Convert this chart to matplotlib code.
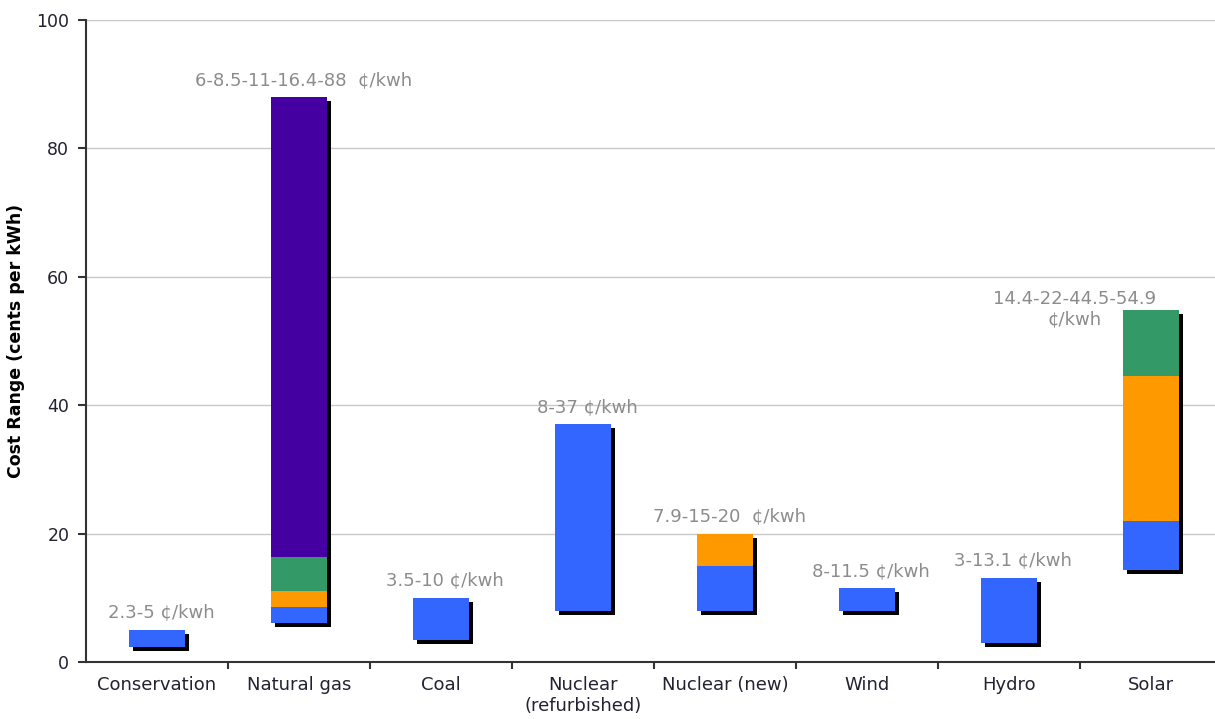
import matplotlib
matplotlib.use('Agg')
import matplotlib.pyplot as plt
from matplotlib.transforms import ScaledTranslation

# cost ranges per source, cents per kWh (segment break points, bottom to top)
categories = ['Conservation', 'Natural gas', 'Coal', 'Nuclear\n(refurbished)',
              'Nuclear (new)', 'Wind', 'Hydro', 'Solar']
breaks = [
    [2.3, 5],
    [6, 8.5, 11, 16.4, 88],
    [3.5, 10],
    [8, 37],
    [7.9, 15, 20],
    [8, 11.5],
    [3, 13.1],
    [14.4, 22, 44.5, 54.9],
]
labels = ['2.3-5 \u00a2/kwh', '6-8.5-11-16.4-88  \u00a2/kwh', '3.5-10 \u00a2/kwh',
          '8-37 \u00a2/kwh', '7.9-15-20  \u00a2/kwh', '8-11.5 \u00a2/kwh',
          '3-13.1 \u00a2/kwh', '14.4-22-44.5-54.9\n\u00a2/kwh']
seg_colors = ['#3366ff', '#ff9900', '#339966', '#4400a0']

fig = plt.figure(figsize=(12.15, 7.19), dpi=100)
ax = fig.add_axes([86/1215, 57/719, 1136/1215, 642/719])

bar_w = 0.4
shadow = ax.transData + ScaledTranslation(4/100, -4/100, fig.dpi_scale_trans)

for i, b in enumerate(breaks):
    # black drop shadow behind the whole bar
    ax.bar(i, b[-1] - b[0], bottom=b[0], width=bar_w, color='black',
           transform=shadow, zorder=2)
    for j in range(len(b) - 1):
        ax.bar(i, b[j+1] - b[j], bottom=b[j], width=bar_w,
               color=seg_colors[j], zorder=3)

gray = '#8c8c8c'
for i, b in enumerate(breaks):
    if i == len(breaks) - 1:
        ax.annotate(labels[i], (i, b[-1]), xytext=(-55, 0), textcoords='offset points',
                    ha='center', va='center', color=gray, fontsize=13, linespacing=1.15)
    else:
        ax.annotate(labels[i], (i, b[-1]), xytext=(3, 6), textcoords='offset points',
                    ha='center', va='bottom', color=gray, fontsize=13)

ax.set_xlim(-0.5, len(categories) - 0.5)
ax.set_ylim(0, 100)
ax.set_yticks([0, 20, 40, 60, 80, 100])
ax.set_xticks(range(len(categories)))
ax.set_xticklabels(categories, fontsize=13, color='#222233')
ax.set_xticks([i + 0.5 for i in range(len(categories) - 1)], minor=True)
ax.tick_params(axis='x', which='major', length=0, pad=10)
ax.tick_params(axis='x', which='minor', length=5, width=1.5, color='#333333')
ax.tick_params(axis='y', length=6, width=1.5, color='#333333', labelsize=12.5,
               labelcolor='#222233', pad=6)

ax.yaxis.grid(True, color='#c8c8c8', lw=1, zorder=0)
ax.set_axisbelow(True)
for s in ['top', 'right']:
    ax.spines[s].set_visible(False)
for s in ['left', 'bottom']:
    ax.spines[s].set_color('#333333')
    ax.spines[s].set_linewidth(1.5)

ax.set_ylabel('Cost Range (cents per kWh)', fontsize=12.5, fontweight='bold', labelpad=8)

fig.savefig('out.png', dpi=100)
